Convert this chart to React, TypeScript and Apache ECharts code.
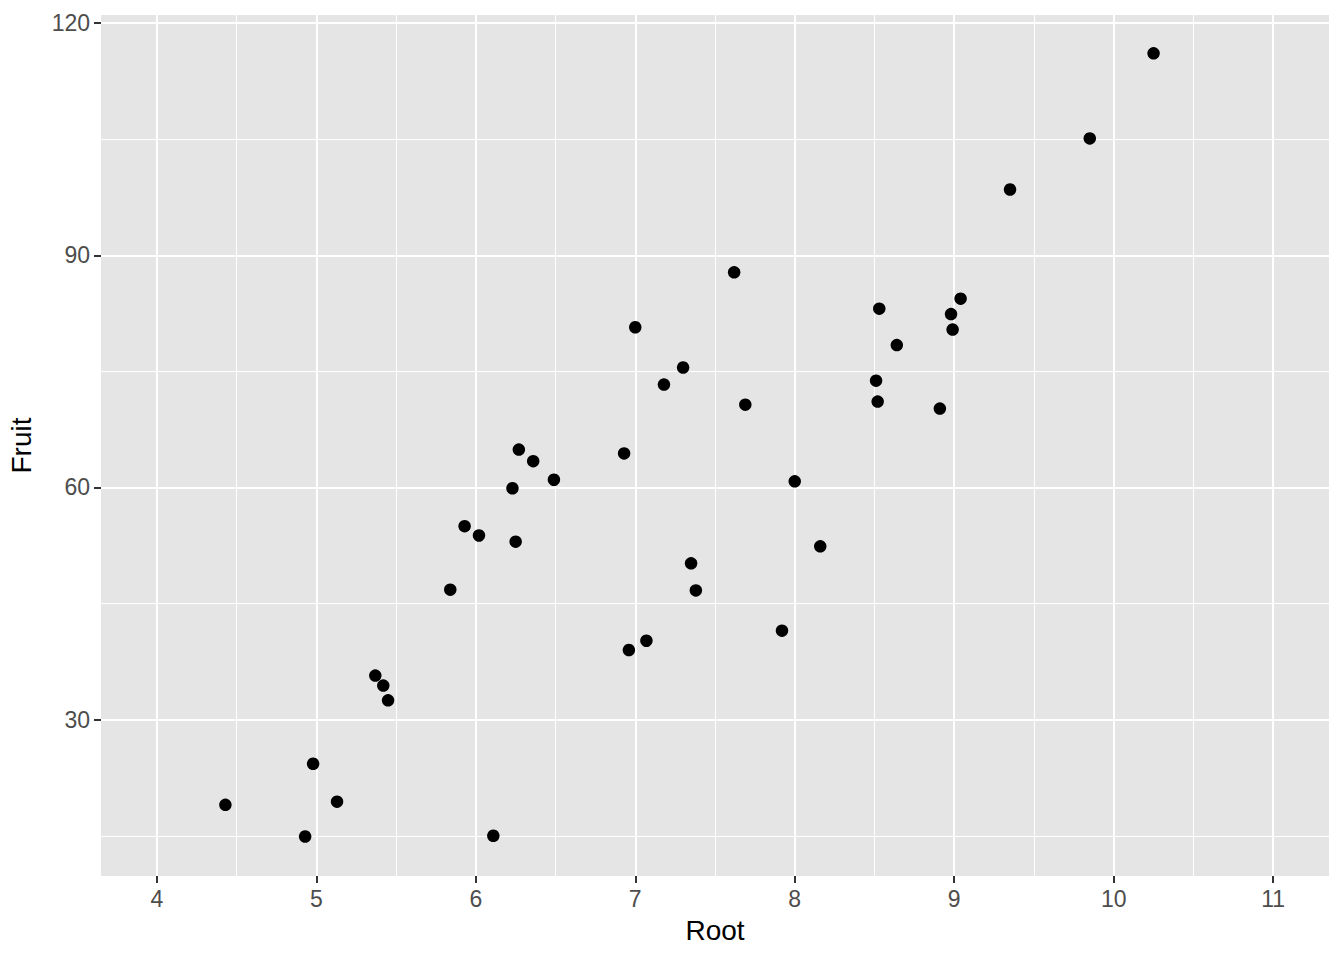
import React, { useEffect, useRef } from 'react';
import * as echarts from 'echarts';

const rootValues = [
  4.43, 4.93, 4.98, 5.13, 5.37, 5.42, 5.45, 5.84, 5.93, 6.02,
  6.11, 6.23, 6.25, 6.27, 6.36, 6.49, 6.93, 6.96, 7.0, 7.07,
  7.18, 7.3, 7.35, 7.38, 7.62, 7.69, 7.92, 8.0, 8.16, 8.51,
  8.52, 8.53, 8.64, 8.91, 8.98, 8.99, 9.04, 9.35, 9.85, 10.25,
];
const fruitValues = [
  19.0, 14.9, 24.3, 19.4, 35.7, 34.4, 32.5, 46.8, 55.0, 53.8,
  15.0, 59.9, 53.0, 64.9, 63.4, 61.0, 64.4, 39.0, 80.7, 40.2,
  73.3, 75.5, 50.2, 46.7, 87.8, 70.7, 41.5, 60.8, 52.4, 73.8,
  71.1, 83.1, 78.4, 70.2, 82.4, 80.4, 84.4, 98.5, 105.1, 116.1,
];
const xTicks = [4, 5, 6, 7, 8, 9, 10, 11];
const xMinor = [4.5, 5.5, 6.5, 7.5, 8.5, 9.5, 10.5];
const yTicks = [30, 60, 90, 120];
const yMinor = [15, 45, 75, 105];
const xTitle = 'Root';
const yTitle = 'Fruit';

const FONT = '"Liberation Sans", Arial, Helvetica, sans-serif';

export default function App() {
  const ref = useRef<HTMLDivElement>(null);
  useEffect(() => {
    if (!ref.current) return;
    const chart = echarts.init(ref.current, null, { renderer: 'svg' });
    const gridLines = [
      ...xMinor.map((v) => ({ xAxis: v, lineStyle: { width: 1 } })),
      ...yMinor.map((v) => ({ yAxis: v, lineStyle: { width: 1 } })),
      ...xTicks.map((v) => ({ xAxis: v, lineStyle: { width: 2 } })),
      ...yTicks.map((v) => ({ yAxis: v, lineStyle: { width: 2 } })),
    ];
    chart.setOption({
      animation: false,
      backgroundColor: '#ffffff',
      grid: {
        left: 101,
        right: 15,
        top: 15,
        bottom: 84,
        containLabel: false,
        outerBoundsMode: 'none',
        show: true,
        backgroundColor: '#E5E5E5',
        borderWidth: 0,
      },
      xAxis: {
        type: 'value',
        min: 3.65,
        max: 11.35,
        name: xTitle,
        nameLocation: 'middle',
        nameGap: 40,
        nameTextStyle: { color: '#000', fontSize: 28, fontFamily: FONT },
        axisLine: { show: false },
        axisTick: {
          show: true,
          length: 7,
          customValues: xTicks,
          lineStyle: { color: '#333333', width: 2 },
        },
        axisLabel: {
          customValues: xTicks,
          color: '#4D4D4D',
          fontSize: 23,
          fontFamily: FONT,
          margin: 11,
        },
        splitLine: { show: false },
      },
      yAxis: {
        type: 'value',
        min: 9.8,
        max: 121.05,
        name: yTitle,
        nameLocation: 'middle',
        nameGap: 66,
        nameRotate: 90,
        nameTextStyle: { color: '#000', fontSize: 28, fontFamily: FONT },
        axisLine: { show: false },
        axisTick: {
          show: true,
          length: 7,
          customValues: yTicks,
          lineStyle: { color: '#333333', width: 2 },
        },
        axisLabel: {
          customValues: yTicks,
          color: '#4D4D4D',
          fontSize: 23,
          fontFamily: FONT,
          margin: 11,
        },
        splitLine: { show: false },
      },
      series: [
        {
          type: 'scatter',
          data: [],
          z: 1,
          markLine: {
            silent: true,
            symbol: 'none',
            z: 1,
            label: { show: false },
            lineStyle: { color: '#ffffff', type: 'solid', opacity: 1 },
            emphasis: { disabled: true },
            data: gridLines,
          },
        },
        {
          type: 'scatter',
          z: 3,
          symbolSize: 12.5,
          itemStyle: { color: '#000000', opacity: 1 },
          data: rootValues.map((x, i) => [x, fruitValues[i]]),
        },
      ],
    });
    return () => chart.dispose();
  }, []);
  return (
    <div
      ref={ref}
      style={{ position: 'absolute', left: 0, top: 0, width: 1344, height: 960 }}
    />
  );
}
